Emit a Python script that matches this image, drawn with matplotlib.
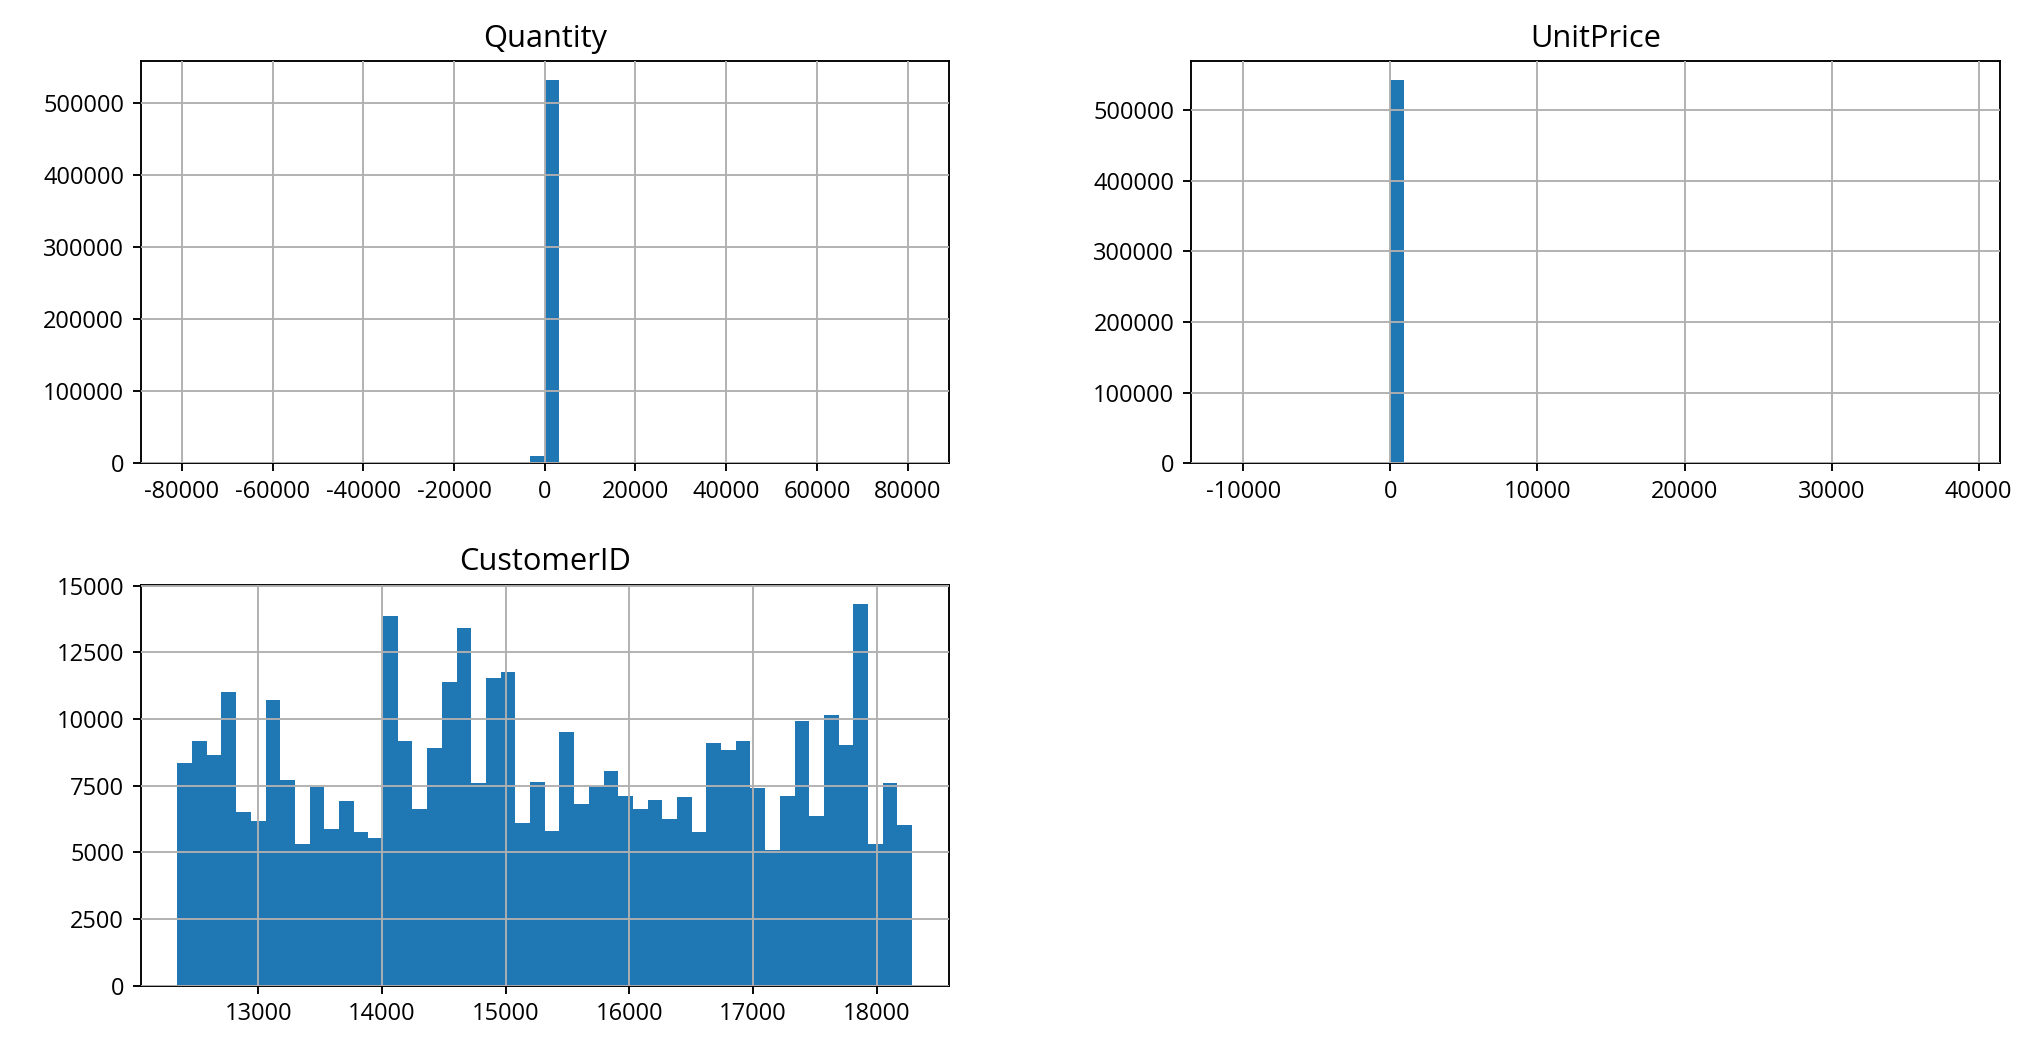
import numpy as np
import matplotlib
matplotlib.use("Agg")
import matplotlib.pyplot as plt
from matplotlib.ticker import MultipleLocator

plt.rcParams['font.family'] = ['Open Sans', 'Noto Sans CJK KR', 'DejaVu Sans']
plt.rcParams['axes.unicode_minus'] = False
plt.rcParams['font.size'] = 10

# --- data: 50-bin histograms (counts) ---
n_bins = 50

qty_range = (-80995, 80995)
qty_bin_idx = [0, 2, 24, 25, 47, 49]
qty_counts = [1, 1, 10620, 531280, 1, 1]

price_range = (-11062.06, 38970.0)
price_bin_idx = [0, 11, 12, 13, 16, 49]
price_counts = [2, 541890, 8, 5, 2, 1]

cust_range = (12346, 18287)
cust_counts = [8350, 9160, 8650, 10990, 6500, 6160, 10690, 7700, 5310, 7460,
               5860, 6910, 5750, 5530, 13870, 9160, 6610, 8900, 11370, 13390,
               7590, 11550, 11740, 6090, 7620, 5790, 9490, 6800, 7490, 8030,
               7100, 6610, 6950, 6240, 7060, 5750, 9080, 8820, 9160, 7400,
               5080, 7100, 9910, 6350, 10130, 9010, 14320, 5300, 7590, 6010]

titles = ["Quantity", "UnitPrice", "CustomerID"]


def full_counts(idx, vals):
    c = np.zeros(n_bins)
    c[idx] = vals
    return c


series = [
    (qty_range, full_counts(qty_bin_idx, qty_counts)),
    (price_range, full_counts(price_bin_idx, price_counts)),
    (cust_range, np.array(cust_counts, dtype=float)),
]

fig = plt.figure(figsize=(2041 / 170, 1051 / 170), dpi=170)
positions = [
    [0.0689, 0.5591, 0.3960, 0.3827],
    [0.5835, 0.5591, 0.3966, 0.3827],
    [0.0689, 0.0623, 0.3960, 0.3815],
]

axes = []
for pos, title, (rng, counts) in zip(positions, titles, series):
    ax = fig.add_axes(pos)
    edges = np.linspace(rng[0], rng[1], n_bins + 1)
    ax.hist(edges[:-1], bins=edges, weights=counts, color="#1f77b4")
    ax.set_title(title, fontsize=13)
    ax.grid(True, color="#b0b0b0", linewidth=0.8)
    ax.set_axisbelow(False)
    axes.append(ax)

axes[0].xaxis.set_major_locator(MultipleLocator(20000))
axes[2].yaxis.set_major_locator(MultipleLocator(2500))

fig.savefig("out.png", dpi=170)
